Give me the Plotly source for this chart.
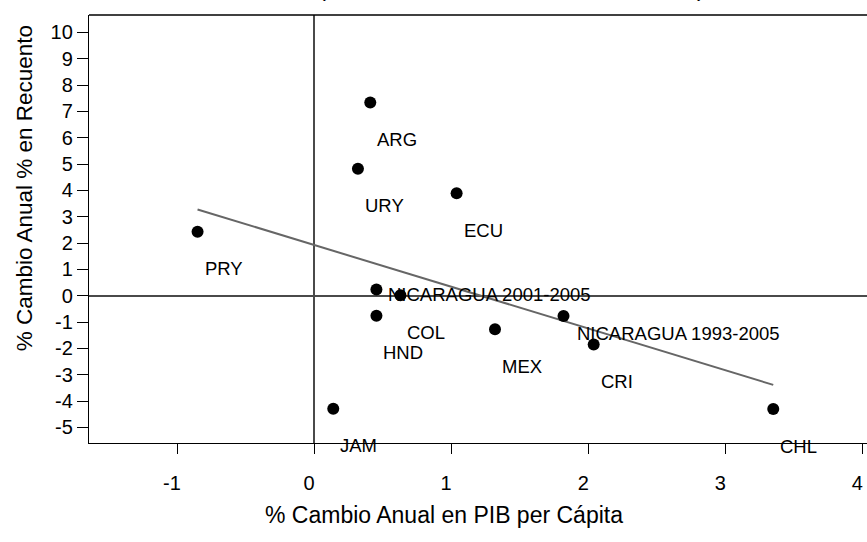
import numpy as np
import plotly.graph_objects as go

# Country observations: annual % change in GDP per capita vs annual % change in head count
countries = ["ARG", "URY", "ECU", "PRY", "NICARAGUA 2001-2005", "COL", "HND",
             "MEX", "NICARAGUA 1993-2005", "CRI", "JAM", "CHL"]
gdp_change = [0.41, 0.32, 1.04, -0.85, 0.455, 0.63, 0.455, 1.32, 1.82, 2.04, 0.14, 3.35]
count_change = [7.34, 4.82, 3.89, 2.43, 0.24, 0.02, -0.76, -1.27, -0.77, -1.85, -4.29, -4.30]

y_ticks = list(range(-5, 11))
x_ticks = list(range(-1, 5))

# Least-squares trend over the observed range
slope, intercept = np.polyfit(gdp_change, count_change, 1)
fit_x = np.array([min(gdp_change), max(gdp_change)])
fit_y = slope * fit_x + intercept

SANS = "Liberation Sans, Arial, sans-serif"

fig = go.Figure()
fig.add_trace(go.Scatter(x=fit_x, y=fit_y, mode="lines",
                         line=dict(color="#666666", width=2), hoverinfo="skip"))
fig.add_trace(go.Scatter(x=gdp_change, y=count_change, mode="markers",
                         marker=dict(color="black", size=12), text=countries))

# Point labels: below-right of each point, a couple nudged by hand
label_shift = {"NICARAGUA 2001-2005": (10, -5), "NICARAGUA 1993-2005": (11, -17)}
annotations = []
for name, gx, cy in zip(countries, gdp_change, count_change):
    dx, dy = label_shift.get(name, (5, -37))
    annotations.append(dict(x=gx, y=cy, xref="x", yref="y", text=name, showarrow=False,
                            xanchor="left", yanchor="middle", xshift=dx, yshift=dy,
                            font=dict(family=SANS, size=18.5, color="black")))

# Axis titles
annotations.append(dict(x=0.456, y=-0.169, xref="paper", yref="paper",
                        text="% Cambio Anual en PIB per Cápita", showarrow=False,
                        xanchor="center", yanchor="middle",
                        font=dict(family=SANS, size=23, color="black")))
annotations.append(dict(x=-0.083, y=0.596, xref="paper", yref="paper",
                        text="% Cambio Anual % en Recuento", showarrow=False, textangle=-90,
                        xanchor="center", yanchor="middle",
                        font=dict(family=SANS, size=22.5, color="black")))
# Title brackets peeking in at the very top
for px, ch in [(0.3, "("), (0.787, ")")]:
    annotations.append(dict(x=px, y=1, xref="paper", yref="paper", text=ch, showarrow=False,
                            xanchor="center", yanchor="bottom", yshift=12,
                            font=dict(family=SANS, size=24, color="black")))

fig.update_layout(
    width=867, height=542,
    margin=dict(l=89, t=15, r=0, b=99),
    paper_bgcolor="white", plot_bgcolor="white",
    showlegend=False,
    annotations=annotations,
    shapes=[dict(type="line", xref="paper", yref="paper", x0=0, x1=1, y0=1, y1=1,
                 line=dict(color="black", width=1.3))],
)
fig.update_xaxes(range=[-1.642, 4.034], tickvals=x_ticks, ticktext=[str(v) for v in x_ticks],
                 showgrid=False, zeroline=True, zerolinecolor="#4a4a4a", zerolinewidth=2,
                 showline=True, linecolor="black", linewidth=1.3,
                 ticks="outside", ticklen=10, tickcolor="black", tickwidth=1.3,
                 ticklabelstandoff=12, ticklabelshift=-5, ticklabeloverflow="allow",
                 tickfont=dict(family=SANS, size=20, color="black"))
fig.update_yaxes(range=[-5.59, 10.66], tickvals=y_ticks, ticktext=[str(v) for v in y_ticks],
                 showgrid=False, zeroline=True, zerolinecolor="#4a4a4a", zerolinewidth=2,
                 showline=True, linecolor="black", linewidth=1.3,
                 ticks="outside", ticklen=11, tickcolor="black", tickwidth=1.3,
                 tickfont=dict(family=SANS, size=20, color="black"))

fig.write_html("out.html")
